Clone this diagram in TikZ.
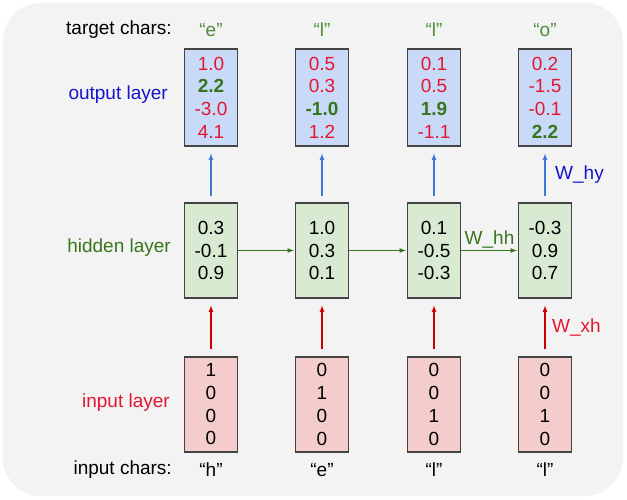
\documentclass[tikz,border=0pt]{standalone}
\usepackage{fontspec}
\setmainfont{Liberation Sans}
\usepackage{xcolor}
\usetikzlibrary{calc}

\definecolor{bgray}{RGB}{243,243,243}
\definecolor{boxline}{RGB}{67,67,67}
\definecolor{outfill}{RGB}{201,218,248}
\definecolor{hidfill}{RGB}{217,234,211}
\definecolor{inpfill}{RGB}{244,204,204}
\definecolor{valred}{RGB}{228,22,48}
\definecolor{valgreen}{RGB}{56,118,29}
\definecolor{tgtgreen}{RGB}{80,140,60}
\definecolor{lblblue}{RGB}{20,20,205}
\definecolor{arrblue}{RGB}{60,120,216}
\definecolor{arrred}{RGB}{204,0,0}
\definecolor{arrgreen}{RGB}{56,118,29}

\tikzset{
  txt/.style={font=\fontsize{19}{22.7}\selectfont, inner sep=1pt},
  vecbox/.style={txt, draw=boxline, line width=1.1pt, minimum width=53pt, minimum height=95pt, align=center},
  layername/.style={txt, anchor=east},
  wlabel/.style={txt, inner sep=2pt}
}
\newcommand{\hi}[1]{\textcolor{valgreen}{\textbf{#1}}}

\begin{document}
\begin{tikzpicture}[x=1pt,y=-1pt]
            \useasboundingbox (0,0) rectangle (627,500);
            \fill[bgray, rounded corners=38pt] (3,3) rectangle (623,496);

            % layer names
            \node[layername] (ltgt) at (173,30) {target chars:};
            \node[layername,text=lblblue] (lout) at (169,95) {output layer};
            \node[layername,text=valgreen] (lhid) at (172,248) {hidden layer};
            \node[layername,text=valred] (linp) at (171,403) {input layer};
            \node[layername] (lchr) at (173,470) {input chars:};

            % output layer
            \node[vecbox,fill=outfill,text=valred,minimum height=97pt] (o1) at (211,97.5) {1.0\\\hi{2.2}\\-3.0\\4.1};
            \node[vecbox,fill=outfill,text=valred,minimum height=97pt] (o2) at (322,97.5) {0.5\\0.3\\\hi{-1.0}\\1.2};
            \node[vecbox,fill=outfill,text=valred,minimum height=97pt] (o3) at (434,97.5) {0.1\\0.5\\\hi{1.9}\\-1.1};
            \node[vecbox,fill=outfill,text=valred,minimum height=97pt] (o4) at (545,97.5) {0.2\\-1.5\\-0.1\\\hi{2.2}};

            % hidden layer
            \node[vecbox,fill=hidfill] (h1) at (211,250.5) {0.3\\-0.1\\0.9};
            \node[vecbox,fill=hidfill] (h2) at (322,250.5) {1.0\\0.3\\0.1};
            \node[vecbox,fill=hidfill] (h3) at (434,250.5) {0.1\\-0.5\\-0.3};
            \node[vecbox,fill=hidfill] (h4) at (545,250.5) {-0.3\\0.9\\0.7};

            % input layer
            \node[vecbox,fill=inpfill] (x1) at (211,404.5) {1\\0\\0\\0};
            \node[vecbox,fill=inpfill] (x2) at (322,404.5) {0\\1\\0\\0};
            \node[vecbox,fill=inpfill] (x3) at (434,404.5) {0\\0\\1\\0};
            \node[vecbox,fill=inpfill] (x4) at (545,404.5) {0\\0\\1\\0};

            % characters
            \node[txt,text=tgtgreen] (t1) at (211,30) {“e”};
            \node[txt,text=tgtgreen] (t2) at (322,30) {“l”};
            \node[txt,text=tgtgreen] (t3) at (434,30) {“l”};
            \node[txt,text=tgtgreen] (t4) at (545,30) {“o”};
            \node[txt] (c1) at (211,470) {“h”};
            \node[txt] (c2) at (322,470) {“e”};
            \node[txt] (c3) at (434,470) {“l”};
            \node[txt] (c4) at (545,470) {“l”};

            \foreach \i in {1,...,4}{
                \draw[-latex,line width=1.2pt,arrblue,shorten <=6pt,shorten >=7pt] (h\i.north)--(o\i.south);
                \draw[-latex,line width=1.2pt,arrred,shorten <=7pt,shorten >=7pt] (x\i.north)--(h\i.south);
            }
            \foreach \i/\j in {1/2,2/3}{
                \draw[-latex,line width=1.2pt,arrgreen,shorten >=1pt] (h\i.east)--(h\j.west);
            }
            \draw[-latex,line width=1.2pt,arrgreen,shorten >=1pt] (h3.east)--node[wlabel,above,text=valgreen]{W\_hh}(h4.west);

            \node[wlabel,right,text=lblblue] (why) at ($(o4.south)!0.5!(h4.north)+(8,0)$) {W\_hy};
            \node[wlabel,right,text=valred] (wxh) at ($(x4.north)!0.5!(h4.south)+(5,0)$) {W\_xh};
        \end{tikzpicture}
\end{document}
